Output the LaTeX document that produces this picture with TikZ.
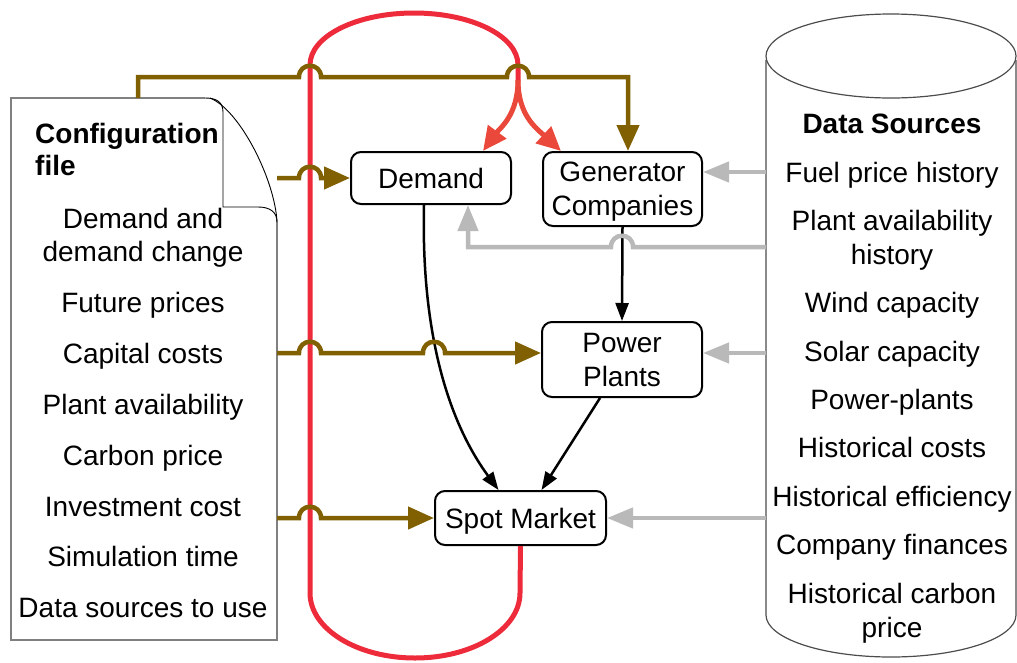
\documentclass[tikz,border=0pt]{standalone}
\usepackage{fontspec}
\setmainfont{Liberation Sans}
\usetikzlibrary{arrows.meta,calc}
\definecolor{brn}{RGB}{128,96,0}
\definecolor{rd}{RGB}{237,43,58}
\definecolor{rda}{RGB}{233,72,58}
\definecolor{gry}{RGB}{185,185,185}
\begin{document}
\begin{tikzpicture}[x=1pt,y=-1pt,
  font=\fontsize{28}{34}\selectfont,
  box/.style={draw, rounded corners=10pt, line width=2pt, align=center, inner sep=0pt, text depth=0pt},
  item/.style={anchor=base, inner sep=0pt},
  title/.style={anchor=base, inner sep=0pt, font=\fontsize{28}{34}\selectfont\bfseries},
  brownline/.style={draw=brn, line width=4.5pt},
  brownarr/.style={brownline, -{Triangle[length=26pt,width=22pt]}},
  redline/.style={draw=rd, line width=5pt},
  redarr/.style={draw=rda, line width=5pt, -{Triangle[length=24pt,width=22pt]}},
  grayarr/.style={draw=gry, line width=4.5pt, -{Triangle[length=26pt,width=20pt]}},
  grayrev/.style={draw=gry, line width=4.5pt, {Triangle[length=26pt,width=20pt]}-},
  blackarr/.style={draw=black, line width=2.5pt, -{Triangle[length=18pt,width=13pt]}},
  docline/.style={draw=gray, line width=1.2pt},
  foldline/.style={draw=black, line width=0.9pt},
  cylline/.style={draw=black!70, line width=1.2pt},
  hop/.style args={#1/#2}{insert path={-- (#1-11,#2) .. controls (#1-11,#2-15) and (#1+11,#2-15) .. (#1+11,#2)}}
]
\useasboundingbox (0,0) rectangle (1017,662);

% ---------- configuration file (document shape) ----------
\draw[docline] (205,98) -- (11,98) -- (11,640) -- (277,640) -- (277,222);
\draw[foldline] (205,98) .. controls (215,98) and (223,101) .. (223,112) -- (223,207) -- (258,207) .. controls (270,207) and (277,212) .. (277,222);
\draw[foldline] (210,98) .. controls (240,110) and (275,180) .. (277,222);

\node[title, anchor=base west] (cfg1) at (35,143) {Configuration};
\node[title, anchor=base west] (cfg2) at (35,175) {file};
\node[item] (l1) at (143,228) {Demand and};
\node[item] (l2) at (143,261) {demand change};
\node[item] (l3) at (143,312) {Future prices};
\node[item] (l4) at (143,363) {Capital costs};
\node[item] (l5) at (143,414) {Plant availability};
\node[item] (l6) at (143,465) {Carbon price};
\node[item] (l7) at (143,516) {Investment cost};
\node[item] (l8) at (143,566) {Simulation time};
\node[item] (l9) at (143,617) {Data sources to use};

% ---------- data sources (cylinder) ----------
\draw[cylline] (891,56) ellipse [x radius=125pt, y radius=42pt];
\draw[cylline] (766,60) -- (766,615) .. controls (766,638.2) and (822,657) .. (891,657) .. controls (960,657) and (1016,638.2) .. (1016,615) -- (1016,60);

\node[title] (ds) at (892,133) {Data Sources};
\node[item] (r1) at (892,182) {Fuel price history};
\node[item] (r2) at (892,230) {Plant availability};
\node[item] (r3) at (892,264) {history};
\node[item] (r4) at (892,312) {Wind capacity};
\node[item] (r5) at (892,361) {Solar capacity};
\node[item] (r6) at (892,409) {Power-plants};
\node[item] (r7) at (892,457) {Historical costs};
\node[item] (r8) at (892,506) {Historical efficiency};
\node[item] (r9) at (892,554) {Company finances};
\node[item] (r10) at (892,603) {Historical carbon};
\node[item] (r11) at (892,637) {price};

% ---------- process boxes ----------
\node[box, minimum width=160pt, minimum height=52pt] (demand) at (431,178) {Demand};
\node[box, minimum width=159pt, minimum height=74pt] (gen) at (622.5,189) {Generator\\Companies};
\node[box, minimum width=160pt, minimum height=75pt] (power) at (622,359.5) {Power\\Plants};
\node[box, minimum width=171pt, minimum height=54pt] (spot) at (520.5,518) {Spot Market};

% ---------- red loop ----------
\coordinate (split) at (518,80);
\draw[redline] (spot.south) -- (520,593) .. controls (520,629) and (473,658) .. (415,658) .. controls (357,658) and (310,629) .. (310,593) -- (310,65) .. controls (310,36) and (356.6,13) .. (414,13) .. controls (471.4,13) and (518,36) .. (518,65) -- (split);
\draw[redarr] (split) .. controls (518,115) and (500,128) .. ($(demand.north east)+(-29,0)$);
\draw[redarr] (split) .. controls (518,115) and (536,128) .. ($(gen.north west)+(19,0)$);

% ---------- black arrows ----------
\draw[blackarr] ($(demand.south)+(-7,0)$) .. controls (421,330) and (447,420) .. ($(spot.north)+(-22,0)$);
\draw[blackarr] (gen.south) -- (power.north);
\draw[blackarr] ($(power.south)+(-22,0)$) -- ($(spot.north)+(21,0)$);

% ---------- brown arrows (configuration) ----------
\coordinate (b1) at (138,98);
\coordinate (b2) at (277,178);
\coordinate (b3) at (277,353);
\coordinate (b4) at (277,518);
\draw[brownarr] (b1) -- (138,77) [hop=310/77] [hop=518/77] -- (628,77) -- ($(gen.north)+(5.5,0)$);
\draw[brownarr] (b2) [hop=310/178] -- (demand.west);
\draw[brownarr] (b3) [hop=310/353] [hop=434/353] -- ($(power.west)+(0,-6.5)$);
\draw[brownarr] (b4) [hop=310/518] -- (spot.west);

% ---------- gray arrows (data sources) ----------
\coordinate (g1) at (766,172);
\coordinate (g2) at (766,247);
\coordinate (g3) at (766,353);
\coordinate (g4) at (766,518);
\draw[grayarr] (g1) -- ($(gen.east)+(0,-17)$);
\draw[grayrev] ($(demand.south)+(37,0)$) -- (468,247) [hop=622/247] -- (g2);
\draw[grayarr] (g3) -- ($(power.east)+(0,-6.5)$);
\draw[grayarr] (g4) -- (spot.east);
\end{tikzpicture}
\end{document}
